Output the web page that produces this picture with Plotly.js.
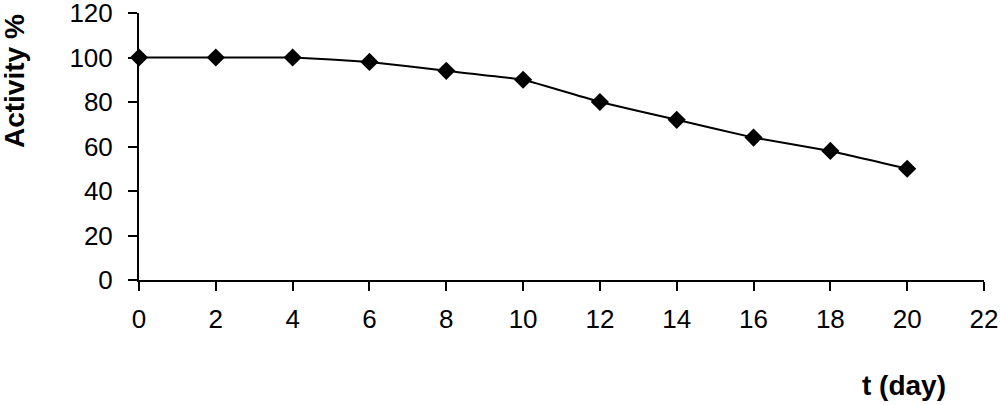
<!DOCTYPE html>
<html>
<head>
<meta charset="utf-8">
<script src="https://cdn.plot.ly/plotly-3.0.1.min.js"></script>
<style>html,body{margin:0;padding:0;background:#fff;}#chart{width:1000px;height:405px;}</style>
</head>
<body>
<div id="chart"></div>
<script>
const days = [0, 2, 4, 6, 8, 10, 12, 14, 16, 18, 20];
const activity = [100, 100, 100, 98, 94, 90, 80, 72, 64, 58, 50];
const xTicks = [0, 2, 4, 6, 8, 10, 12, 14, 16, 18, 20, 22];
const yTicks = [0, 20, 40, 60, 80, 100, 120];
const xTitle = 't (day)';
const yTitle = 'Activity %';

const font = 'Liberation Sans, Arial, sans-serif';
const trace = {
  x: days, y: activity, type: 'scatter', mode: 'lines+markers',
  line: {color: '#000', width: 2, shape: 'spline', smoothing: 0.3},
  marker: {symbol: 'diamond', size: 14, color: '#000'},
  cliponaxis: false
};
const layout = {
  width: 1000, height: 405,
  margin: {l: 139, r: 16, t: 13, b: 125},
  paper_bgcolor: '#fff', plot_bgcolor: '#fff',
  showlegend: false,
  font: {family: font, size: 26, color: '#000'},
  xaxis: {
    range: [0, 22], tickvals: xTicks, ticktext: xTicks.map(String),
    showgrid: false, zeroline: false, showline: true, linecolor: '#000', linewidth: 2,
    ticks: 'outside', ticklen: 9, tickwidth: 2, tickcolor: '#000',
    tickfont: {family: font, size: 26, color: '#000'}, ticklabelstandoff: 6,
    ticklabeloverflow: 'allow'
  },
  yaxis: {
    range: [0, 120], tickvals: yTicks, ticktext: yTicks.map(String),
    showgrid: false, zeroline: false, showline: true, linecolor: '#000', linewidth: 2,
    ticks: 'outside', ticklen: 9, tickwidth: 2, tickcolor: '#000',
    tickfont: {family: font, size: 26, color: '#000'}, ticklabelstandoff: 10,
    ticklabeloverflow: 'allow'
  },
  annotations: [
    {text: '<b>' + yTitle + '</b>', xref: 'paper', yref: 'paper', x: -0.148, y: 0.745,
     textangle: -90, showarrow: false, font: {family: font, size: 28, color: '#000'},
     xanchor: 'center', yanchor: 'middle'},
    {text: '<b>' + xTitle + '</b>', xref: 'paper', yref: 'paper', x: 0.905, y: -0.395,
     showarrow: false, font: {family: font, size: 28, color: '#000'},
     xanchor: 'center', yanchor: 'middle'}
  ]
};
Plotly.newPlot('chart', [trace], layout, {displayModeBar: false, staticPlot: true});
</script>
</body>
</html>
